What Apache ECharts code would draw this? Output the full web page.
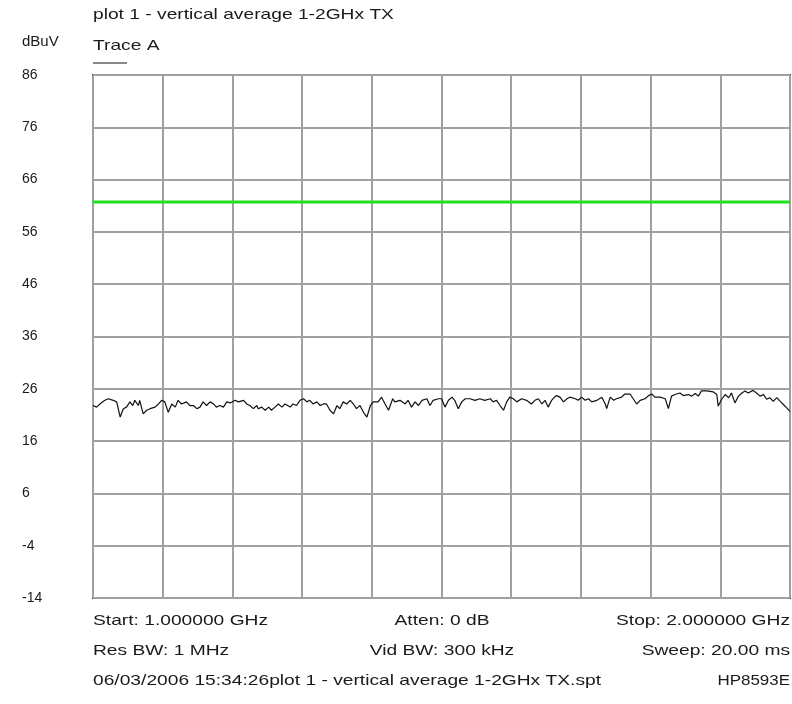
<!DOCTYPE html>
<html>
<head>
<meta charset="utf-8">
<script src="https://cdn.jsdelivr.net/npm/echarts@6/dist/echarts.min.js"></script>
<style>
  html, body { margin: 0; padding: 0; background: #ffffff; }
  #chart { width: 792px; height: 704px; }
</style>
</head>
<body>
<div id="chart"></div>
<script>
// Spectrum analyser sweep, 1-2 GHz, Trace A (frequency in MHz, level in dBuV)
const freqMHz = [
  1000, 1005, 1010, 1017, 1022, 1029, 1034, 1039, 1041, 1043.5, 1048, 1053, 1057, 1060, 1065, 1067,
  1072, 1077, 1082, 1089, 1094, 1098.5, 1103, 1108, 1113, 1118, 1122, 1127, 1134, 1139, 1144, 1149,
  1153.5, 1158, 1163, 1168,
  1173, 1177, 1182, 1187, 1192, 1197, 1204, 1208.5, 1216, 1220.5, 1225, 1230, 1235, 1237, 1242, 1247,
  1252, 1256, 1261, 1266, 1271, 1275.5, 1283, 1287, 1292, 1297, 1302, 1307, 1311, 1316, 1321, 1326, 1330.5,
  1335, 1340, 1345, 1350, 1354, 1359, 1364, 1369, 1373.5, 1378, 1383, 1388, 1393, 1395, 1398, 1402,
  1409, 1414, 1419, 1424, 1426, 1430, 1433, 1440.5, 1448, 1452, 1457, 1462, 1467, 1472, 1479, 1483.5,
  1488, 1495.5,
  1500, 1505, 1510, 1515, 1519, 1524, 1529, 1534, 1541, 1548, 1555, 1562, 1570, 1574, 1579, 1584,
  1589, 1593.5, 1598, 1603, 1608, 1615, 1622, 1629, 1634, 1639, 1644, 1648.5, 1653, 1658, 1662,
  1665, 1670, 1675, 1680, 1684, 1692, 1696, 1701, 1706, 1711, 1715.5, 1723, 1730, 1735, 1737, 1742,
  1747, 1751, 1758.5, 1763, 1770.5, 1775, 1780, 1785, 1792, 1797, 1802, 1806, 1813.5, 1821, 1825.5,
  1830, 1835, 1842, 1847, 1854, 1859, 1864, 1868.5, 1873, 1880.5, 1890, 1895, 1897, 1902, 1907, 1912,
  1916, 1921, 1926, 1931, 1935.5, 1940, 1947, 1952, 1957, 1962, 1966.5, 1971, 1976, 1981, 1986, 1990.5,
  1995, 2000
];
const levelDbuv = [
  22.8, 22.5, 23.1, 23.8, 24.1, 23.8, 23.5, 20.6, 20.9, 22.2, 22.5, 23.5, 22.8, 23.8, 22.8, 23.8,
  21.2, 21.9, 22.2, 22.5, 23.1, 23.8, 23.5, 21.5, 23.1, 22.5, 23.8, 23.1, 23.5, 22.8, 22.8, 22.2,
  22.5, 23.5, 22.8, 23.5,
  23.1, 22.5, 22.8, 22.5, 23.5, 23.3, 23.8, 23.5, 23.8, 23.1, 22.8, 22.2, 22.8, 22.2, 22.5, 21.9,
  22.5, 21.9, 22.5, 23.1, 22.5, 23.1, 22.5, 23.1, 22.8, 23.8, 24.1, 23.5, 23.8, 23.1, 23.5, 22.8, 23.1,
  23.1, 21.9, 21.2, 22.8, 22.2, 23.5, 23.1, 23.8, 23.1, 22.2, 22.8, 21.5, 20.6, 20.3, 22.8, 23.5,
  23.5, 24.4, 23.1, 21.9, 22.2, 24.1, 23.5, 23.8, 23.1, 23.8, 22.5, 23.5, 22.8, 23.8, 24.1, 22.8,
  23.8, 24.1,
  24.1, 22.5, 23.8, 24.4, 23.8, 22.2, 23.5, 24.1, 24.1, 23.8, 24.1, 23.8, 24.1, 23.5, 23.8, 22.8,
  21.9, 23.5, 24.4, 24.1, 23.5, 24.1, 23.8, 23.1, 23.8, 24.1, 23.1, 23.8, 22.5, 23.8, 24.4,
  24.7, 24.4, 23.5, 24.1, 24.4, 24.1, 23.8, 24.4, 23.8, 24.1, 23.5, 23.8, 24.4, 23.1, 22.2, 24.4,
  23.8, 24.1, 24.4, 25.0, 25.0, 24.1, 23.1, 23.8, 24.1, 24.7, 25.0, 24.4, 24.4, 24.1, 22.2,
  24.6, 24.9, 25.2, 24.7, 24.9, 24.6, 25.1, 24.6, 25.6, 25.6, 25.4, 24.9, 22.7, 24.0, 24.9, 24.3,
  25.2, 23.3, 24.6, 25.2, 25.6, 25.2, 25.7, 25.2, 24.6, 24.9, 24.0, 24.3, 23.6, 24.3, 23.6, 23.0,
  22.4, 21.7
];

// Limit line (green)
const limitFreqMHz = [1000, 2000];
const limitDbuv = [61.7, 61.7];

// Axis ranges
const yMin = -14, yMax = 86, yStep = 10;
const xMin = 1000, xMax = 2000, xStep = 100;

// Header / footer annotations
const titleText = 'plot 1 - vertical average 1-2GHx TX';
const traceName = 'Trace A';
const unitText = 'dBuV';
const footerLeft = ['Start: 1.000000 GHz', 'Res BW: 1 MHz', '06/03/2006 15:34:26plot 1 - vertical average 1-2GHx TX.spt'];
const footerMid = ['Atten: 0 dB', 'Vid BW: 300 kHz', ''];
const footerRight = ['Stop: 2.000000 GHz', 'Sweep: 20.00 ms', 'HP8593E'];

const traceData = freqMHz.map((f, i) => [f, levelDbuv[i]]);
const limitData = limitFreqMHz.map((f, i) => [f, limitDbuv[i]]);

// The instrument's screen font is wide and loosely spaced; widen a sans face to suit.
const FONT = '15px "Liberation Sans", Arial, sans-serif';
const SX = 1.28;
function label(text, x, y, align, scale) {
  return {
    type: 'text', x: x, y: y, scaleX: scale, scaleY: 1, silent: true,
    style: { text: text, font: FONT, fill: '#1a1a1a', align: align, verticalAlign: 'middle' }
  };
}

const graphics = [
  label(titleText, 93, 15, 'left', SX),
  label(unitText, 22, 42, 'left', 1.0),
  label(traceName, 93, 46, 'left', SX),
  { type: 'line', silent: true, shape: { x1: 93, y1: 63, x2: 127, y2: 63 }, style: { stroke: '#111', lineWidth: 1 } }
];
const rowY = [621, 651, 681];
rowY.forEach((y, i) => {
  graphics.push(label(footerLeft[i], 93, y, 'left', SX));
  if (footerMid[i]) graphics.push(label(footerMid[i], 442, y, 'center', SX));
  graphics.push(label(footerRight[i], 790, y, 'right', i === 2 ? 1.13 : SX));
});

const chart = echarts.init(document.getElementById('chart'), null, { renderer: 'canvas' });
chart.setOption({
  animation: false,
  backgroundColor: '#ffffff',
  grid: { left: 93, right: 2, top: 75, bottom: 106, show: true, borderColor: '#333', borderWidth: 2, backgroundColor: 'transparent' },
  xAxis: {
    type: 'value', min: xMin, max: xMax, interval: xStep,
    axisLine: { show: false }, axisTick: { show: false }, axisLabel: { show: false },
    splitLine: { show: true, lineStyle: { color: '#a0a0a0', width: 2 } }
  },
  yAxis: {
    type: 'value', min: yMin, max: yMax, interval: yStep,
    axisLine: { show: false }, axisTick: { show: false },
    axisLabel: { show: true, align: 'left', margin: 71, color: '#1a1a1a', fontSize: 14, fontFamily: '"Liberation Sans", Arial, sans-serif' },
    splitLine: { show: true, lineStyle: { color: '#a0a0a0', width: 2 } }
  },
  graphic: graphics,
  series: [
    {
      type: 'line', name: 'Limit', data: limitData, showSymbol: false, silent: true,
      lineStyle: { color: '#1ee01e', width: 3 }, z: 3
    },
    {
      type: 'line', name: traceName, data: traceData, showSymbol: false, silent: true,
      lineStyle: { color: '#111111', width: 1.2 }, z: 4
    }
  ]
});
</script>
</body>
</html>
